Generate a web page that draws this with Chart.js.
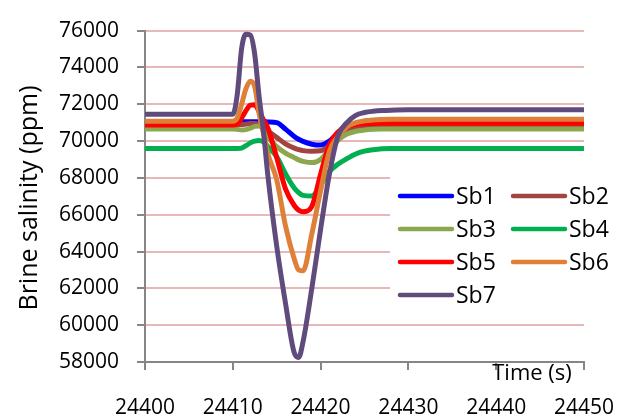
<!DOCTYPE html>
<html>
<head>
<meta charset="utf-8">
<script src="https://cdn.jsdelivr.net/npm/chart.js@4.4.0/dist/chart.umd.min.js"></script>
<style>
  html, body { margin: 0; padding: 0; background: #fff; }
  #wrap { width: 639px; height: 419px; }
</style>
</head>
<body>
<div id="wrap"><canvas id="salinity"></canvas></div>
<script>
// sample times (s) shared by all series
const times = [24400, 24410, 24410.5, 24411, 24411.5, 24412, 24412.5, 24413, 24413.5, 24414,
  24415, 24416, 24417, 24417.5, 24418, 24419, 24420, 24421, 24422, 24423,
  24424, 24425, 24426, 24427, 24428, 24430, 24450];

const names = ["Sb1", "Sb2", "Sb3", "Sb4", "Sb5", "Sb6", "Sb7"];

// brine salinity (ppm)
const sb1 = [71050, 71050, 71050, 71050, 71050, 71050, 71050, 71050, 71050, 71040,
  71000, 70650, 70250, 70100, 69980, 69830, 69780, 70000, 70450, 70750,
  70900, 70960, 71000, 71020, 71030, 71030, 71030];
const sb2 = [70900, 70900, 70900, 70900, 70920, 70950, 70960, 70900, 70750, 70550,
  70200, 69850, 69620, 69540, 69480, 69450, 69470, 69750, 70250, 70600,
  70760, 70830, 70860, 70870, 70870, 70870, 70870];
const sb3 = [70660, 70660, 70640, 70600, 70620, 70700, 70800, 70820, 70600, 70200,
  69700, 69350, 69100, 68980, 68900, 68830, 69000, 69550, 70050, 70380,
  70530, 70600, 70640, 70660, 70660, 70660, 70660];
const sb4 = [69600, 69600, 69600, 69620, 69750, 69900, 70000, 70030, 69950, 69700,
  69150, 68230, 67450, 67200, 67050, 67020, 67600, 68350, 68750, 69050,
  69300, 69450, 69530, 69580, 69600, 69600, 69600];
const sb5 = [70870, 70870, 70920, 71250, 71650, 71950, 71970, 71600, 71150, 70700,
  69100, 67400, 66500, 66250, 66160, 66450, 68200, 69800, 70500, 70800,
  70900, 70940, 70960, 70970, 70970, 70970, 70970];
const sb6 = [71080, 71080, 71250, 72000, 72850, 73250, 72950, 71500, 70400, 69300,
  67900, 65400, 63600, 63000, 62950, 64950, 67300, 69450, 70250, 70780,
  71000, 71100, 71150, 71170, 71180, 71180, 71180];
const sb7 = [71450, 71450, 72500, 75000, 75800, 75750, 74700, 72400, 70500, 68100,
  64300, 61200, 58500, 58250, 59100, 62000, 65200, 68200, 70300, 71000,
  71400, 71550, 71620, 71660, 71680, 71700, 71700];

const series = [sb1, sb2, sb3, sb4, sb5, sb6, sb7];
const colors = ["#0000FF", "#A24540", "#8DA74F", "#00B050", "#FF0000", "#DF8038", "#604B7D"];

const xTicks = [24400, 24410, 24420, 24430, 24440, 24450];
const yTicks = [58000, 60000, 62000, 64000, 66000, 68000, 70000, 72000, 74000, 76000];

const axisGray = "#868686";
const gridPink = "#E6B9B8";
const fontFamily = "'Open Sans', sans-serif";

// two-column legend and axis titles drawn straight onto the canvas
const chartText = {
  id: "chartText",
  afterDraw(chart) {
    const ctx = chart.ctx;
    ctx.save();

    ctx.fillStyle = "#fff";
    ctx.fillRect(390, 176, 215, 138);

    ctx.font = "23px " + fontFamily;
    ctx.textBaseline = "middle";
    ctx.textAlign = "left";
    names.forEach(function (name, i) {
      const col = i % 2;
      const row = Math.floor(i / 2);
      const lx = col === 0 ? 400 : 513;
      const ly = 196 + row * 33;
      ctx.strokeStyle = colors[i];
      ctx.lineWidth = 4.5;
      ctx.lineCap = "round";
      ctx.beginPath();
      ctx.moveTo(lx, ly);
      ctx.lineTo(lx + 52, ly);
      ctx.stroke();
      ctx.fillStyle = "#000";
      ctx.fillText(name, lx + 56, ly + 1);
    });

    ctx.font = "22px " + fontFamily;
    ctx.textAlign = "center";
    ctx.textBaseline = "alphabetic";
    ctx.fillText("Time (s)", 532, 380);

    ctx.font = "25px " + fontFamily;
    ctx.translate(37, 198);
    ctx.rotate(-Math.PI / 2);
    ctx.fillText("Brine salinity (ppm)", 0, 0);

    ctx.restore();
  }
};

const ctx = document.getElementById("salinity").getContext("2d");
const salinityChart = new Chart(ctx, {
  type: "line",
  data: {
    datasets: names.map(function (name, i) {
      return {
        label: name,
        data: times.map(function (t, k) { return { x: t, y: series[i][k] }; }),
        borderColor: colors[i],
        backgroundColor: colors[i],
        borderWidth: 5,
        pointRadius: 0,
        cubicInterpolationMode: "monotone",
        borderJoinStyle: "round",
        borderCapStyle: "round",
        fill: false,
        order: names.length - i,
      };
    }),
  },
  options: {
    responsive: true,
    maintainAspectRatio: false,
    animation: false,
    layout: { padding: { top: 17, right: 48, left: 0, bottom: 0 } },
    plugins: {
      legend: { display: false },
      tooltip: { enabled: false },
    },
    scales: {
      x: {
        type: "linear",
        min: 24400,
        max: 24450,
        afterBuildTicks: function (scale) {
          scale.ticks = xTicks.map(function (v) { return { value: v }; });
        },
        afterFit: function (scale) { scale.height = 57; },
        ticks: {
          callback: function (v) { return String(v); },
          color: "#000",
          font: { family: fontFamily, size: 21 },
          padding: 25,
          maxRotation: 0,
          autoSkip: false,
        },
        grid: {
          drawOnChartArea: false,
          tickLength: 8,
          tickColor: axisGray,
          lineWidth: 2,
        },
        border: { color: axisGray, width: 2 },
      },
      y: {
        min: 58000,
        max: 76000,
        afterBuildTicks: function (scale) {
          scale.ticks = yTicks.map(function (v) { return { value: v }; });
        },
        afterFit: function (scale) { scale.width = 145; },
        ticks: {
          callback: function (v) { return String(v); },
          color: "#000",
          font: { family: fontFamily, size: 21 },
          padding: 18,
        },
        grid: {
          color: function (c) {
            return c.tick && c.tick.value === 58000 ? "rgba(0,0,0,0)" : gridPink;
          },
          lineWidth: 2,
          tickLength: 8,
          tickColor: axisGray,
        },
        border: { color: axisGray, width: 2 },
      },
    },
  },
  plugins: [chartText],
});
</script>
</body>
</html>
